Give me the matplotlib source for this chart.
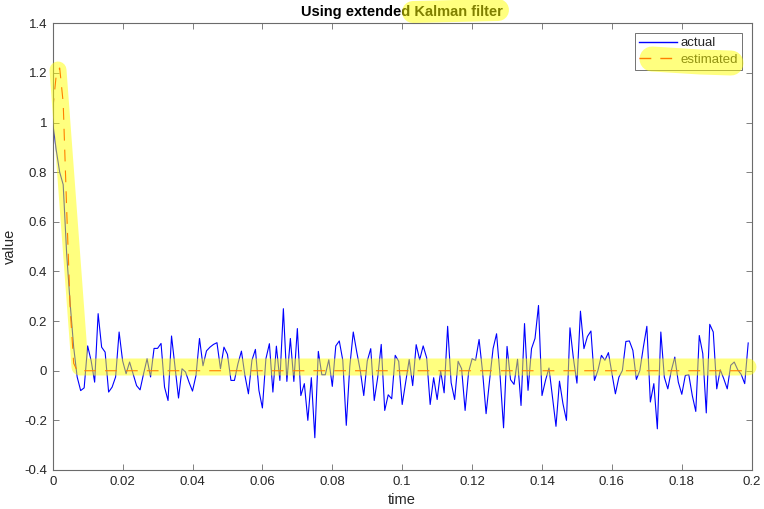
"""
Extended Kalman filter: actual vs estimated state (MATLAB-style plot)
with the yellow highlighter marks that sit on top of the reference.
"""
import numpy as np
import matplotlib
matplotlib.use("Agg")
import matplotlib.pyplot as plt
from matplotlib.lines import Line2D

plt.rcParams['font.family'] = ['Liberation Sans', 'DejaVu Sans']
plt.rcParams['lines.scale_dashes'] = False

# ---- data (dt = 0.001) ----
actual = [
    1.0, 0.89, 0.80, 0.75, 0.47, 0.27, 0.095, -0.025, -0.08, -0.069,
    0.10, 0.04, -0.046, 0.23, 0.095, 0.075, -0.086, -0.066, -0.025, 0.156,
    0.04, -0.012, 0.035, -0.012, -0.06, -0.077, -0.012, 0.048, -0.025, 0.09,
    0.09, 0.11, -0.066, -0.12, 0.14, 0.015, -0.11, 0.008, -0.005, -0.046,
    -0.082, -0.019, 0.13, 0.02, 0.08, 0.095, 0.106, 0.113, 0.008, 0.095,
    0.066, -0.039, -0.039, 0.028, 0.079, -0.019, -0.093, 0.042, 0.086, -0.079,
    -0.15, 0.048, 0.109, -0.086, 0.099, -0.039, 0.25, -0.043, 0.13, -0.043,
    0.17, -0.10, -0.052, -0.20, -0.028, -0.27, 0.078, -0.016, -0.016, 0.044,
    -0.063, 0.10, 0.12, 0.042, -0.22, 0.017, 0.156, 0.075, 0.001, -0.10,
    0.039, 0.089, -0.12, -0.026, 0.106, -0.16, -0.097, -0.113, 0.062, 0.038,
    -0.136, -0.046, 0.045, -0.06, 0.105, 0.044, 0.10, 0.052, -0.136, -0.028,
    -0.116, -0.001, -0.089, 0.179, -0.048, -0.116, 0.038, 0.008, -0.16, -0.005,
    0.048, 0.042, 0.126, -0.005, -0.173, -0.039, 0.089, 0.149, -0.019, -0.23,
    0.098, -0.036, -0.055, 0.046, -0.14, 0.19, -0.079, 0.089, 0.13, 0.263,
    -0.10, -0.039, 0.011, -0.106, -0.224, -0.042, -0.133, -0.20, 0.173, 0.048,
    -0.05, 0.24, 0.089, 0.138, 0.16, -0.039, 0.001, 0.062, 0.042, 0.073,
    -0.009, -0.093, -0.026, 0.001, 0.118, 0.12, 0.082, -0.035, 0.001, 0.095,
    0.179, -0.126, -0.052, -0.234, 0.156, -0.026, -0.073, 0.001, 0.055, -0.046,
    -0.095, -0.019, -0.016, -0.10, -0.164, 0.142, 0.069, -0.17, 0.187, 0.156,
    -0.073, 0.004, -0.032, -0.073, 0.022, 0.035, 0.004, -0.015, -0.052, 0.112,
]
estimated = [1.05, 1.19, 1.22, 1.08, 0.65, 0.25, 0.03] + [0.0] * 193
time = np.arange(len(actual)) * 0.001

xticks = [0, 0.02, 0.04, 0.06, 0.08, 0.1, 0.12, 0.14, 0.16, 0.18, 0.2]
xtick_labels = ['0', '0.02', '0.04', '0.06', '0.08', '0.1', '0.12', '0.14', '0.16', '0.18', '0.2']
yticks = [-0.4, -0.2, 0, 0.2, 0.4, 0.6, 0.8, 1, 1.2, 1.4]
ytick_labels = ['-0.4', '-0.2', '0', '0.2', '0.4', '0.6', '0.8', '1', '1.2', '1.4']

W, H = 764, 509
fig = plt.figure(figsize=(W / 100, H / 100), dpi=100, facecolor='white')
ax = fig.add_axes([52.7 / W, 39 / H, 699 / W, 446.7 / H])

axis_col = '#6b6b6b'
text_col = '#262626'

ax.plot(time, actual, color='#0000ff', lw=0.8, label='actual')
ax.plot(time, estimated, color='#ff0000', lw=0.8, dashes=(8.5, 6.5), label='estimated')

ax.set_xlim(0, 0.2)
ax.set_ylim(-0.4, 1.4)
ax.set_xticks(xticks)
ax.set_xticklabels(xtick_labels)
ax.set_yticks(yticks)
ax.set_yticklabels(ytick_labels)
ax.tick_params(direction='in', length=4, width=0.6, color=axis_col,
               labelsize=9.5, labelcolor=text_col, top=True, right=True, pad=4)
for s in ax.spines.values():
    s.set_color(axis_col)
    s.set_linewidth(0.8)

ax.set_xlabel('time', fontsize=10.5, color=text_col, labelpad=4)
ax.set_ylabel('value', fontsize=10.5, color=text_col)
ax.yaxis.set_label_coords(-0.051, 0.5)
ax.set_title('Using extended Kalman filter', fontsize=10.5, fontweight='bold',
             color='black', pad=5)

leg = ax.legend(loc='upper right', fontsize=9.5, frameon=True, fancybox=False,
                handlelength=2.9, handletextpad=0.25, borderpad=0.3,
                labelspacing=0.3, borderaxespad=0.75)
leg.get_frame().set_edgecolor('#333333')
leg.get_frame().set_linewidth(0.6)
for t in leg.get_texts():
    t.set_color(text_col)
for h in leg.get_lines():
    h.set_linewidth(1.0)


# ---- yellow highlighter strokes (pixel positions on the figure) ----
def highlight(xs, ys, width_px):
    fx = [x / W for x in xs]
    fy = [1 - y / H for y in ys]
    fig.add_artist(Line2D(fx, fy, transform=fig.transFigure, color='#ffff00',
                          alpha=0.5, lw=width_px * 72 / 100,
                          solid_capstyle='round', solid_joinstyle='round',
                          zorder=10))


highlight([413, 455, 498], [12, 11, 10], 22)
highlight([652, 700, 731], [59, 62, 63], 25)
highlight([58, 80, 748], [70, 367, 367], 17)

fig.savefig('out.png', dpi=100, facecolor='white')
